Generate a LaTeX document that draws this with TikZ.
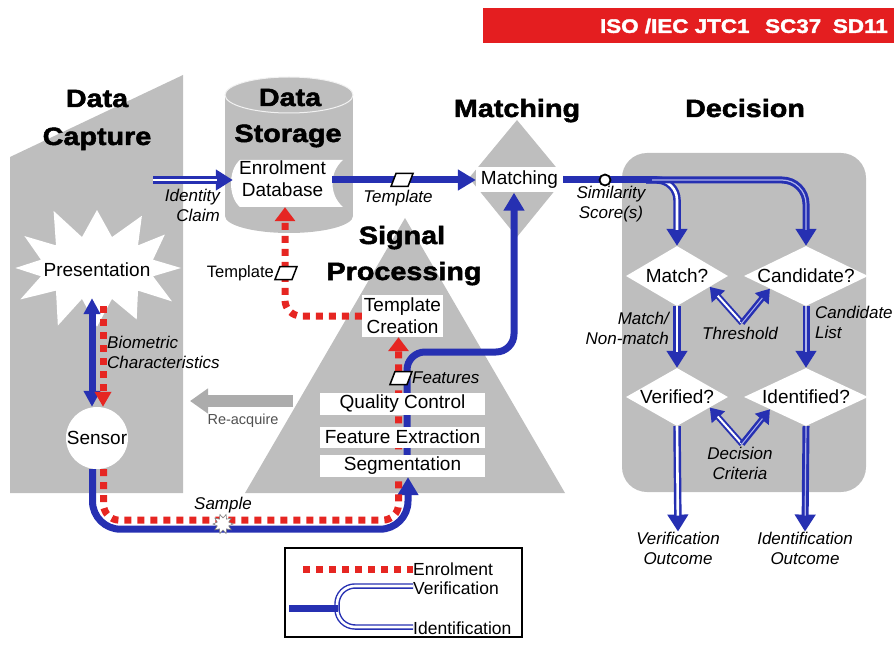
\documentclass[tikz,border=0pt]{standalone}
\usepackage{fontspec}
\setmainfont{Liberation Sans}
\newfontfamily\headfont{Liberation Sans Bold}[FakeStretch=1.15,FakeBold=2]
\usetikzlibrary{arrows.meta,calc,shapes.geometric}
\pgfdeclarelayer{back}
\pgfdeclarelayer{mid}
\pgfsetlayers{back,mid,main}
\definecolor{bgray}{RGB}{190,190,190}
\definecolor{bblue}{RGB}{38,48,178}
\definecolor{bred}{RGB}{230,38,34}
\definecolor{banred}{RGB}{228,30,32}
\definecolor{agray}{RGB}{172,172,172}
\definecolor{lblue}{RGB}{175,180,235}
\definecolor{tgray}{RGB}{80,80,80}
\tikzset{
 head/.style={font=\headfont\fontsize{25}{30}\selectfont, anchor=base, inner sep=0pt},
 body/.style={font=\fontsize{19}{22}\selectfont},
 lab/.style={font=\itshape\fontsize{17}{20}\selectfont, inner sep=0pt},
 wbox/.style={fill=white, inner sep=0pt, body},
 bline/.style={draw=bblue, line width=7pt},
 barrow/.style={bline, -{Triangle[length=18pt,width=20pt]}},
 vline/.style={draw=bblue, line width=7.5pt, postaction={draw=white, line width=2.6pt}},
 varrow/.style={draw=bblue, line width=7.5pt, -{Triangle[length=17pt,width=20pt]}, postaction={draw=white, line width=2.6pt, -, shorten >=16pt}},
 iarrow/.style={draw=bblue, line width=7pt, -{Triangle[length=17pt,width=20pt]}, postaction={draw=lblue, line width=1.2pt, -, shorten >=16pt}},
 smallv/.style={draw=bblue, line width=6pt, -{Triangle[length=13pt,width=17pt]}, postaction={draw=white, line width=2pt, -, shorten >=12pt}},
 smalli/.style={draw=bblue, line width=6pt, -{Triangle[length=13pt,width=17pt]}, postaction={draw=lblue, line width=1pt, -, shorten >=12pt}},
 rline/.style={draw=bred, line width=7pt, dash pattern=on 7pt off 6pt},
 rarrow/.style={rline, -{Triangle[length=14pt,width=20pt]}},
 dia/.style={diamond, fill=white, inner sep=0pt, body},
 pics/tmpl/.style={code={\draw[fill=white, line width=1.5pt, line join=miter] (-11,6.5) -- (6,6.5) -- (11,-6.5) -- (-6,-6.5) -- cycle;}},
}
\begin{document}
\begin{tikzpicture}[x=1pt, y=-1pt]
\useasboundingbox (0,0) rectangle (894,647);

% banner
\node[fill=banred, minimum width=411pt, minimum height=35pt, inner sep=0pt] (banner) at (688.5,25.5) {};
\node[font=\headfont\fontsize{19.5}{22}\selectfont, text=white, anchor=east, inner sep=0pt] (bantext) at (888,26) {ISO /IEC JTC1\hspace{0.8em}SC37\hspace{0.6em}SD11};

% background shapes
\begin{pgfonlayer}{back}
\fill[bgray] (10,157) -- (183,75) -- (183,493) -- (10,493) -- cycle;
\fill[bgray] (225,95) rectangle (353,216);
\fill[bgray] (289,216) ellipse[x radius=64, y radius=17];
\fill[bgray] (289,95) ellipse[x radius=64, y radius=18];
\draw[white!80!bgray, line width=1pt] (289,95) ellipse[x radius=64, y radius=18];
\fill[bgray] (517,120) -- (565,178) -- (517,237) -- (469,178) -- cycle;
\fill[bgray] (405,218) -- (565,493) -- (245,493) -- cycle;
\fill[bgray, rounded corners=25pt] (622,153) rectangle (866,492);
\end{pgfonlayer}

% headings
\node[head] (hdc1) at (97,107) {Data};
\node[head] (hdc2) at (97,145) {Capture};
\node[head] (hds1) at (290,106) {Data};
\node[head] (hds2) at (288,142) {Storage};
\node[head] (hm) at (517,117) {Matching};
\node[head] (hd) at (745,117) {Decision};
\node[head] (hsp1) at (402,244) {Signal};
\node[head] (hsp2) at (404,280) {Processing};

% presentation star and enrolment database shape (below the connectors)
\begin{pgfonlayer}{mid}
\fill[white] ({97+84},268) \foreach \k in {1,...,23} { -- ({97+ifthenelse(iseven(\k),84*(1+0.07*sin(\k*77)),58)*cos(\k*15)}, {268+ifthenelse(iseven(\k),62*(1+0.08*sin(\k*53)),32)*sin(\k*15)}) } -- cycle;
\fill[white] (240,160) -- (343,160) .. controls (329,172) and (329,195) .. (343,207) -- (240,207) .. controls (228,197) and (228,170) .. (240,160) -- cycle;
\end{pgfonlayer}
\node[body, minimum height=56pt, inner sep=0pt] (pres) at (97,270) {Presentation};
\node[circle, fill=white, minimum size=62pt, inner sep=0pt, body] (sens) at (97,438) {\makebox[0pt]{Sensor}};
\node[body, minimum width=99pt, minimum height=47pt, inner sep=0pt, align=center, text depth=10pt] (db) at (282.5,183.5) {Enrolment\\Database};

% signal processing boxes
\node[wbox, minimum width=81pt, minimum height=42pt, align=center] (tc) at (402.5,316) {Template\\Creation};
\node[wbox, minimum width=165pt, minimum height=22pt] (qc) at (402.5,404) {Quality Control};
\node[wbox, minimum width=165pt, minimum height=21pt] (fe) at (402.5,437) {Feature Extraction};
\node[wbox, minimum width=165pt, minimum height=22pt] (seg) at (402.5,466) {Segmentation};

% matching box
\node[wbox, minimum width=87pt, minimum height=25pt] (mbox) at (519.5,180) {Matching};

% decision diamonds
\node[dia, minimum width=102pt, minimum height=60pt] (match) at (677,276) {\makebox[0pt]{Match?}};
\node[dia, minimum width=124pt, minimum height=60pt] (cand) at (806,276) {\makebox[0pt]{Candidate?}};
\node[dia, minimum width=102pt, minimum height=58pt] (ver) at (677,397) {\makebox[0pt]{Verified?}};
\node[dia, minimum width=124pt, minimum height=58pt] (ident) at (806,397) {\makebox[0pt]{Identified?}};

% labels
\node[lab, align=center] (vout) at (678,548) {Verification\\Outcome};
\node[lab, align=center] (iout) at (805,548) {Identification\\Outcome};
\node[lab, align=right, anchor=east] (icl) at (220,205) {Identity\\Claim};
\node[lab] (tpl) at (398,198) {Template};
\node[lab, align=center] (sim) at (611,204) {Similarity\\Score(s)};
\node[lab, align=left, anchor=west] (bio) at (107,352) {Biometric\\Characteristics};
\node[lab] (smp) at (223,505) {Sample};
\node[lab, anchor=west] (feat) at (412,378) {Features};
\node[font=\fontsize{16.5}{18}\selectfont, anchor=east, inner sep=0pt] (tpl2) at (274,273) {Template};
\node[lab, align=right, anchor=east] (mnm) at (669,328) {Match/\\Non-match};
\node[lab, align=left, anchor=west] (cl) at (815,322) {Candidate\\List};
\node[lab] (thrl) at (740,333) {Threshold};
\node[lab, align=center] (dcl) at (740,463) {Decision\\Criteria};
\node[font=\fontsize{14.5}{16}\selectfont, text=tgray, inner sep=0pt] (reacq) at (243,421) {Re-acquire};

% legend
\node[draw, line width=1.8pt, minimum width=237pt, minimum height=89pt, inner sep=0pt] (leg) at (403.5,592.5) {};
\node[font=\fontsize{17.5}{20}\selectfont, anchor=west, inner sep=0pt] (lenr) at (413,569) {Enrolment};
\node[font=\fontsize{17.5}{20}\selectfont, anchor=west, inner sep=0pt] (lver) at (413,588) {Verification};
\node[font=\fontsize{17.5}{20}\selectfont, anchor=west, inner sep=0pt] (lid) at (413,628) {Identification};

% connectors (under boxes)
\begin{pgfonlayer}{mid}
% identity claim
\coordinate (icstart) at (153,180);
\draw[varrow] (icstart) -- (db.west |- icstart);
% template to matching
\draw[barrow] (db.east |- mbox.west) -- (mbox.west);
% template creation to database
\draw[rarrow, rounded corners=16pt] (tc.west) -| ([xshift=2.5pt]db.south);
% features to matching
\coordinate (bturn) at (460,352);
\draw[barrow, rounded corners=18pt] ([xshift=4.5pt]seg.north) |- (bturn) -| ([xshift=-5.5pt]mbox.south);
% sensor to segmentation
\draw[barrow, rounded corners=28pt] ([xshift=-4.5pt]sens.south) -- ++(0,60) -| ([xshift=5.5pt]seg.south);
\draw[rarrow, rounded corners=16pt] ([xshift=6.5pt]sens.south) -- ++(0,51) -| ([xshift=-4pt]tc.south);
% biometric characteristics
\draw[draw=bblue, line width=7pt, {Triangle[length=16pt,width=16pt]}-{Triangle[length=16pt,width=16pt]}] ([xshift=-5pt]pres.south) -- ([xshift=-5pt]sens.north);
\draw[rarrow, shorten <=8pt, -{Triangle[length=15pt,width=16pt]}] ([xshift=6pt]pres.south) -- ([xshift=6pt]sens.north);
% re-acquire
\coordinate (ra1) at (293,401);
\coordinate (ra2) at (190,401);
\draw[draw=agray, line width=12pt, -{Triangle[length=18pt,width=24pt]}] (ra1) -- (ra2);
% decision
\coordinate (split) at (652,180);
\draw[varrow, rounded corners=20pt] ([xshift=-6pt]split) -| (match.north);
\draw[iarrow, rounded corners=24pt] ([xshift=-6pt]split) -| (cand.north);
\draw[bline] (mbox.east) -- (split);
\draw[varrow] (match.south) -- (ver.north);
\draw[iarrow] (cand.south) -- (ident.north);
\draw[varrow] (ver.south) -- (vout.north);
\draw[iarrow] (ident.south) -- (iout.north);
\coordinate (thr) at (742,323);
\draw[smallv] (thr) -- ($(match.east)!0.36!(match.south)$);
\draw[smalli] (thr) -- ($(cand.west)!0.42!(cand.south)$);
\coordinate (crit) at (742,444);
\draw[smallv] (crit) -- ($(ver.east)!0.36!(ver.south)$);
\draw[smalli] (crit) -- ($(ident.west)!0.42!(ident.south)$);
% legend lines
\coordinate (lr0) at (303,569);
\draw[rline] (lr0) -- (lenr.west);
\coordinate (lb0) at (289,608);
\coordinate (lsp) at (337,608);
\draw[vline, line width=5.5pt, rounded corners=18pt] (lsp) |- ([yshift=2pt]lver.west);
\draw[vline, line width=5.5pt, rounded corners=18pt] (lsp) |- ([yshift=1pt]lid.west);
\draw[bline] (lb0) -- ([xshift=1pt]lsp);
\end{pgfonlayer}

% symbols on the lines
\pic at (402,180) {tmpl};
\pic at (286,273) {tmpl};
\pic at (401,378) {tmpl};
\node[circle, draw, fill=white, line width=1.8pt, minimum size=11pt, inner sep=0pt] (simc) at (605,180) {};
\fill[white, draw=gray, line width=0.6pt] ({223+10},524) \foreach \k in {1,...,19} { -- ({223+ifthenelse(iseven(\k),10,6)*cos(\k*18)}, {524+ifthenelse(iseven(\k),10,6)*sin(\k*18)}) } -- cycle;
\end{tikzpicture}
\end{document}
